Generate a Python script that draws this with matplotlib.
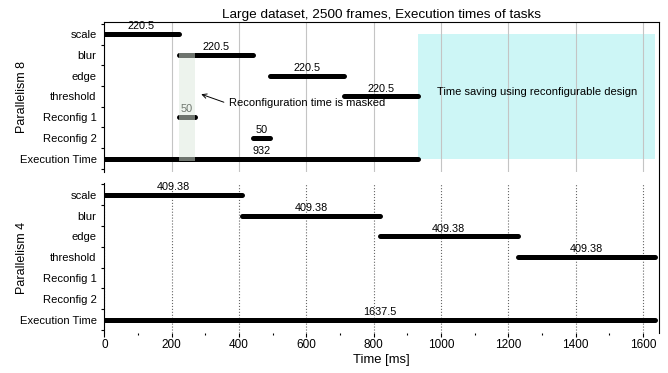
import numpy as np
import matplotlib
matplotlib.use('Agg')
import matplotlib.pyplot as plt
from matplotlib.lines import Line2D
from matplotlib.patches import Rectangle

plt.rcParams['font.family'] = ['Liberation Sans', 'DejaVu Sans']

tasks = ['scale', 'blur', 'edge', 'threshold', 'Reconfig 1', 'Reconfig 2', 'Execution Time']

# parallelism 8 (with reconfiguration)
p8_start = [0, 220.5, 491, 711.5, 220.5, 441, 0]
p8_dur = [220.5, 220.5, 220.5, 220.5, 50, 50, 932]

# parallelism 4 (no reconfiguration)
p4_start = [0, 409.38, 818.76, 1228.14, 0, 0, 0]
p4_dur = [409.38, 409.38, 409.38, 409.38, 0, 0, 1637.5]

rows = np.arange(len(tasks))[::-1]  # scale on top


def draw_tasks(ax, starts, durs):
    for y, s, d in zip(rows, starts, durs):
        if d == 0:
            continue
        ax.plot([s, s + d], [y, y], color='k', lw=3.6, solid_capstyle='round', zorder=3)
        ax.text(s + d / 2, y + 0.14, f'{round(d, 2):g}', ha='center', va='bottom',
                fontsize=7.8, zorder=3)


def setup_axes(ax, ylabel):
    ax.set_xlim(0, 1648)
    ax.set_ylim(-0.65, 6.57)
    ax.set_yticks(np.arange(-0.5, 7, 1))
    ax.set_yticklabels([])
    ax.set_yticks(rows, minor=True)
    ax.set_yticklabels(tasks, minor=True)
    ax.tick_params(axis='y', which='major', direction='out', length=2.5, width=0.8)
    ax.tick_params(axis='y', which='minor', length=0, pad=5.6, labelsize=8.1)
    ax.set_xticks(np.arange(0, 1601, 200))
    ax.set_axisbelow(True)
    ax.spines['right'].set_visible(False)
    ax.spines['bottom'].set_visible(False)
    for sp in ax.spines.values():
        sp.set_linewidth(0.8)
    ax.set_ylabel(ylabel, fontsize=9)
    ax.yaxis.set_label_coords(-0.138, 0.5)


fig = plt.figure(figsize=(6.68, 3.73), dpi=100)
ax8 = fig.add_axes([0.1563, 0.5389, 0.8302, 0.4008])
ax4 = fig.add_axes([0.1563, 0.1072, 0.8302, 0.4021])

# top panel
setup_axes(ax8, 'Parallelism 8')
ax8.tick_params(axis='x', bottom=False, labelbottom=False)
ax8.grid(axis='x', color='#c4c4c4', lw=0.8, ls='-')
draw_tasks(ax8, p8_start, p8_dur)

# reconfiguration 1 is hidden behind blur
r1 = tasks.index('Reconfig 1')
ax8.add_patch(Rectangle((p8_start[r1], -0.12), p8_dur[r1], 5.24,
                        facecolor='#dce9dc', alpha=0.5, lw=0, zorder=4))

# saved time compared to parallelism 4
ax8.add_patch(Rectangle((p8_dur[-1], 0), p4_dur[-1] - p8_dur[-1], 6,
                        facecolor='#cdf6f6', lw=0, zorder=0.2))
ax8.text((p8_dur[-1] + p4_dur[-1]) / 2, 3.2, 'Time saving using reconfigurable design',
         ha='center', va='center', fontsize=8)

ax8.annotate('Reconfiguration time is masked', xy=(280, 3.15), xytext=(371, 2.7),
             fontsize=8, ha='left', va='center',
             arrowprops=dict(arrowstyle='->', color='k', lw=0.7, relpos=(0, 0.35)))

ax8.set_title('Large dataset, 2500 frames, Execution times of tasks', fontsize=9.7, pad=3)

# bottom panel
setup_axes(ax4, 'Parallelism 4')
ax4.spines['top'].set_visible(False)
ax4.set_xticks(np.arange(100, 1601, 200), minor=True)
ax4.tick_params(axis='x', which='major', direction='out', length=3, width=0.8, pad=1.5, labelsize=8.5)
ax4.tick_params(axis='x', which='minor', direction='out', length=1.5, width=0.8)
ax4.grid(axis='x', which='major', color='#666666', lw=0.8, ls=':')
draw_tasks(ax4, p4_start, p4_dur)
ax4.set_xlabel('Time [ms]', fontsize=9.4, labelpad=2)

# one right border running through both panels
fig.add_artist(Line2D([0.9865, 0.9865], [0.1072, 0.9397], transform=fig.transFigure,
                      color='k', lw=0.8))

fig.savefig('out.png', dpi=100)
